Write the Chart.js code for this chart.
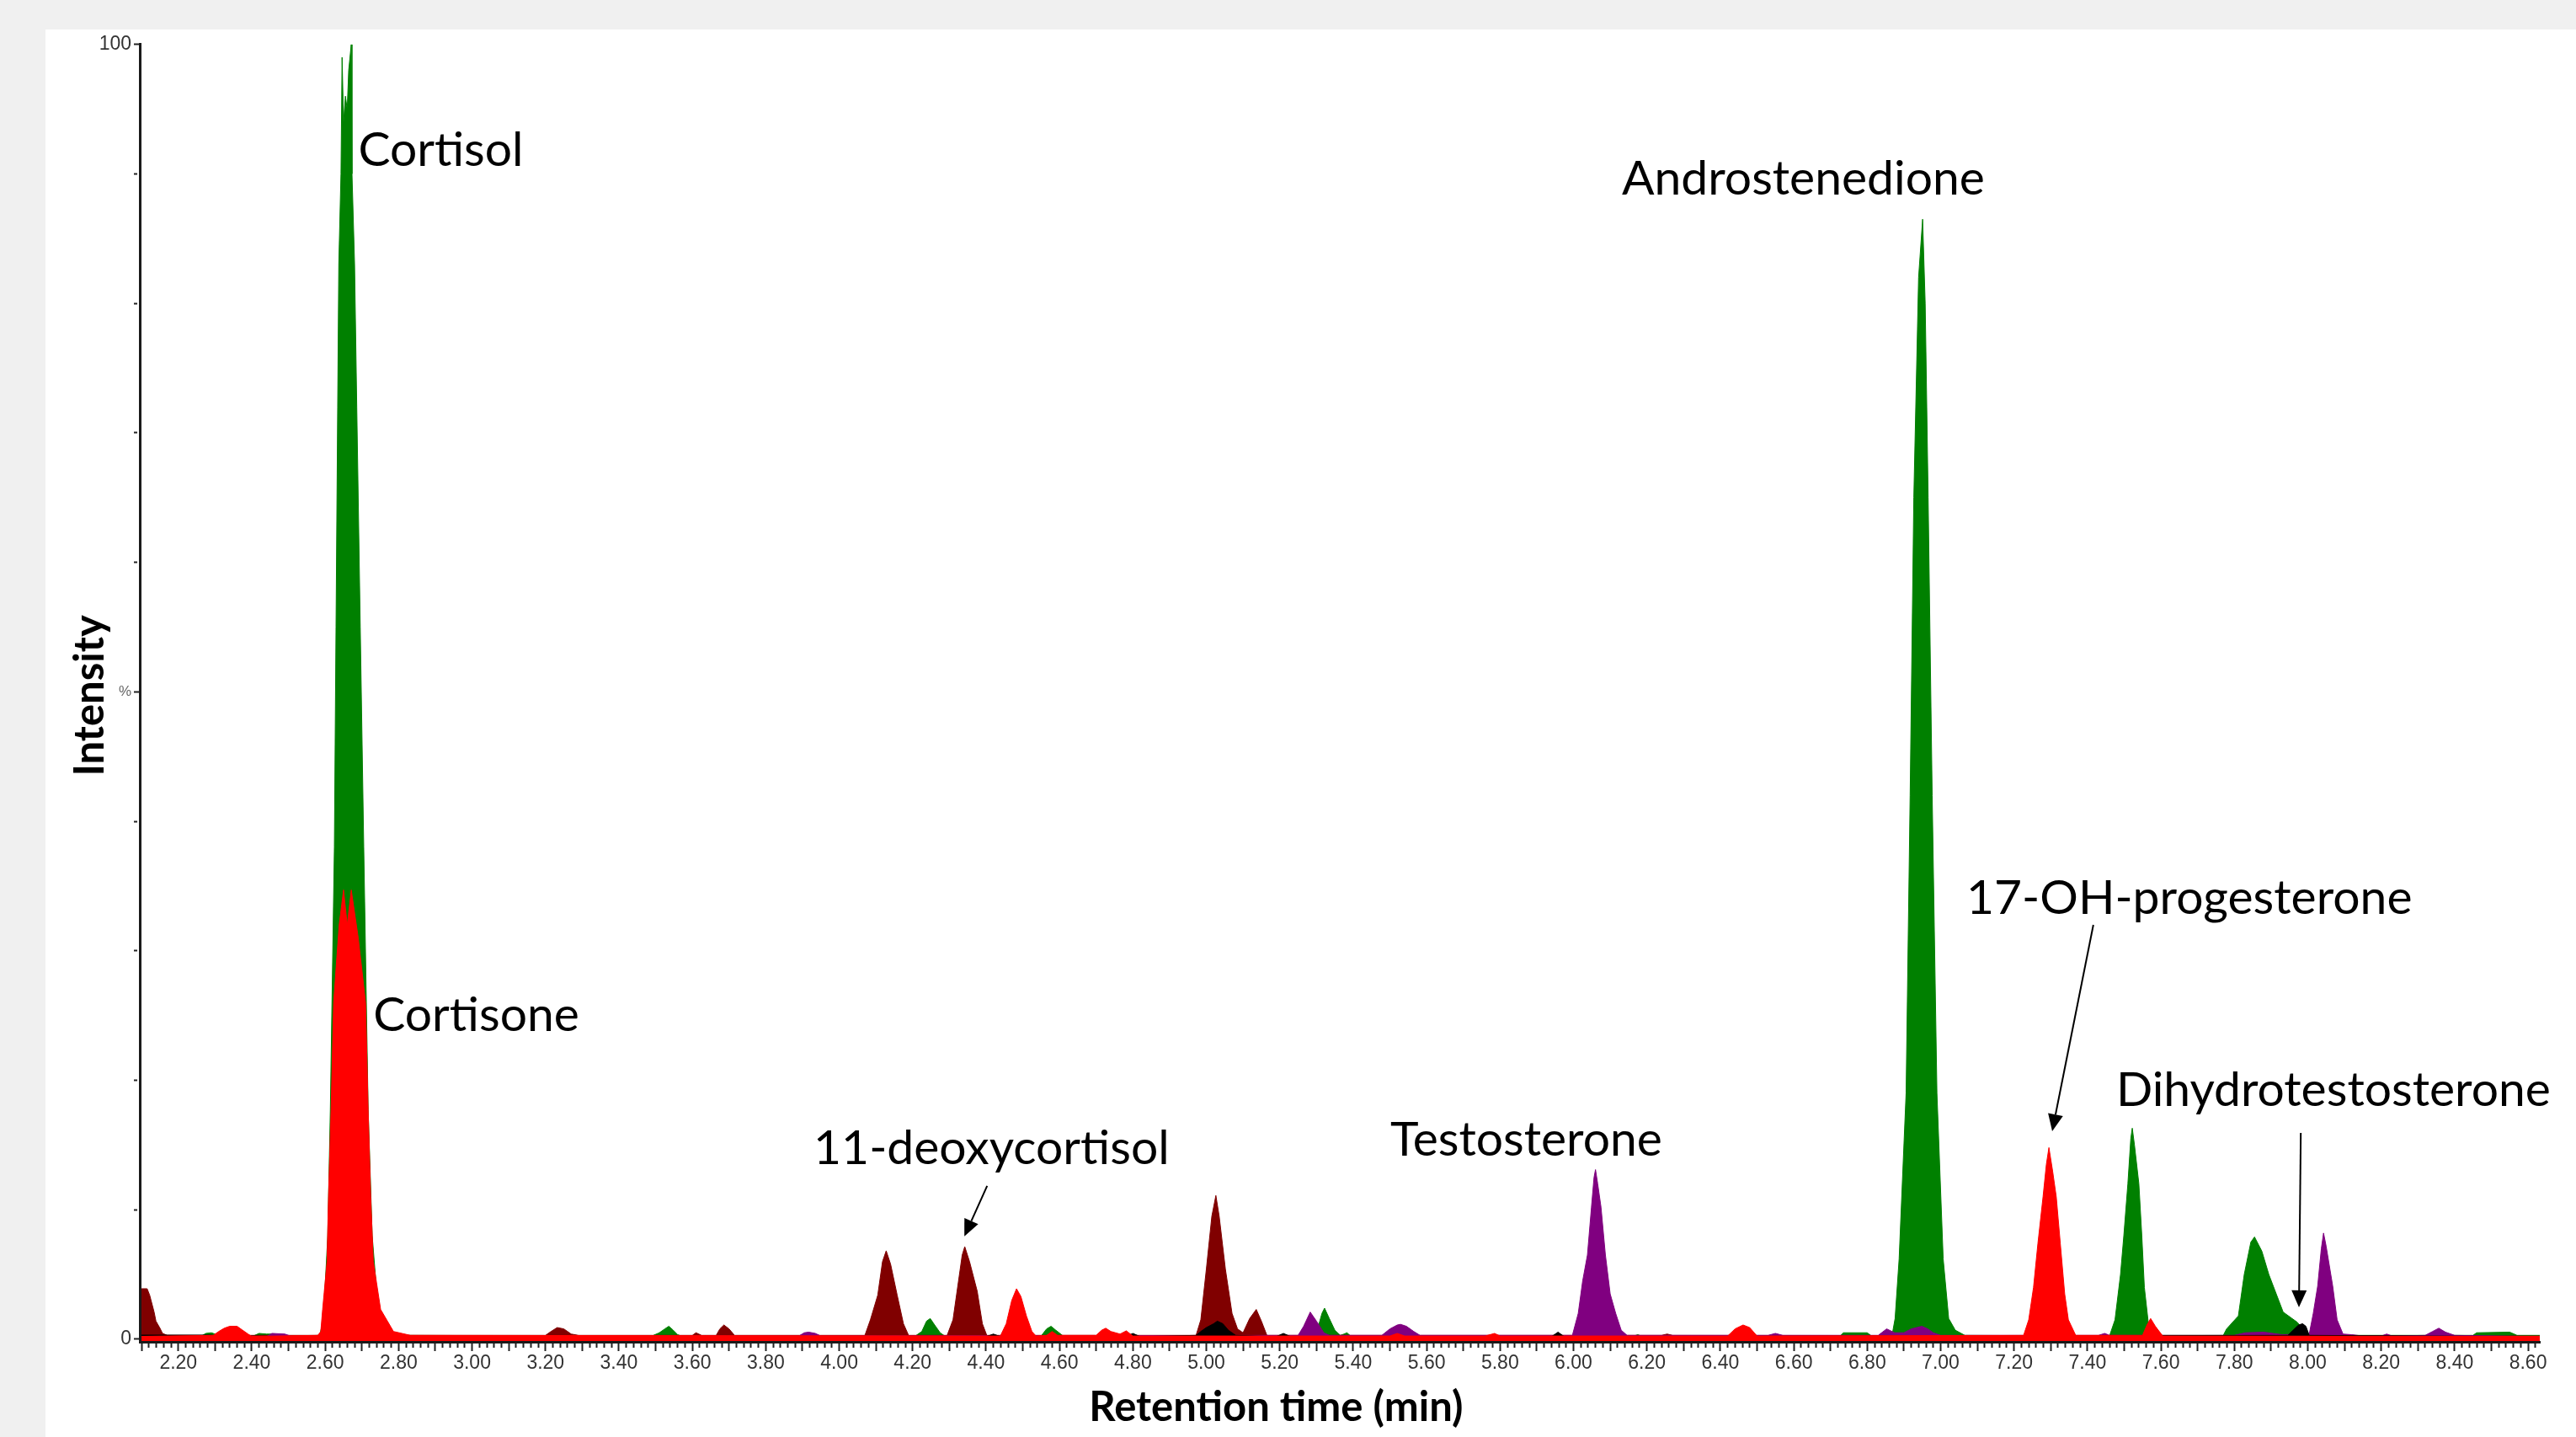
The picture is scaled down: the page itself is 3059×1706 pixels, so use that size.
<!DOCTYPE html>
<html>
<head>
<meta charset="utf-8">
<title>Steroid chromatogram</title>
<script src="https://cdn.jsdelivr.net/npm/chart.js@4"></script>
<style>
  html, body { margin: 0; padding: 0; background: #f0f0f0; overflow: hidden; }
  canvas { display: block; }
</style>
</head>
<body>
<canvas id="chromChart" width="3059" height="1706"></canvas>
<script>
// retention time (min) / relative intensity (%) per trace

const greenT = [2.095, 2.26, 2.275, 2.29, 2.305, 2.32, 2.40, 2.42, 2.44, 2.46, 2.475,
    2.585, 2.595, 2.607, 2.614, 2.625, 2.634, 2.637, 2.643, 2.646, 2.650, 2.655, 2.660, 2.664, 2.671, 2.673, 2.680, 2.686, 2.705, 2.717, 2.728, 2.745, 2.78,
    3.49, 3.51, 3.525, 3.536, 3.548, 3.56, 3.575,
    4.205, 4.225, 4.238, 4.248, 4.26, 4.275, 4.29,
    4.55, 4.565, 4.577, 4.59, 4.61,
    5.295, 5.305, 5.315, 5.322, 5.335, 5.35, 5.365, 5.375, 5.383, 5.395,
    6.16, 6.175, 6.19,
    6.725, 6.735, 6.80, 6.812,
    6.86, 6.869, 6.876, 6.887, 6.906, 6.917, 6.927, 6.940, 6.951, 6.958, 6.966, 6.977, 6.990, 7.007, 7.022, 7.040, 7.066,
    7.46, 7.475, 7.49, 7.499, 7.51, 7.518, 7.522, 7.528, 7.54, 7.548, 7.555, 7.566, 7.58,
    7.77, 7.779, 7.811, 7.827, 7.845, 7.855, 7.875, 7.894, 7.933, 7.972, 7.99, 8.00,
    8.45, 8.46, 8.55, 8.57, 8.632];
const greenY = [0.2, 0.2, 0.45, 0.5, 0.35, 0.2, 0.2, 0.45, 0.4, 0.4, 0.2,
    0.3, 1.5, 8, 17.7, 38, 72, 83, 90, 99, 94, 96, 95, 98, 100, 90, 83, 72, 38, 17.7, 8, 2, 0.3,
    0.25, 0.5, 0.8, 1.0, 0.7, 0.35, 0.2,
    0.2, 0.6, 1.4, 1.6, 1.1, 0.5, 0.2,
    0.25, 0.8, 1.0, 0.7, 0.25,
    0.2, 1.0, 2.0, 2.4, 1.6, 0.7, 0.3, 0.4, 0.5, 0.2,
    0.2, 0.35, 0.2,
    0.2, 0.5, 0.5, 0.25,
    0.3, 0.5, 1.6, 6.2, 19, 42, 65, 82, 86.5, 80, 65, 42, 19, 6.2, 1.6, 0.7, 0.3,
    0.25, 1.5, 5, 8, 12, 15.5, 16.3, 15, 12, 8, 4, 1.2, 0.3,
    0.3, 0.8, 1.8, 5, 7.5, 7.9, 6.8, 5, 2.1, 1.3, 0.6, 0.3,
    0.3, 0.5, 0.55, 0.3, 0.3];

const darkRedT = [2.095, 2.100, 2.115, 2.122, 2.134, 2.139, 2.150, 2.157, 2.17,
    3.20, 3.215, 3.232, 3.25, 3.27, 3.29,
    3.60, 3.61, 3.625,
    3.665, 3.675, 3.686, 3.70, 3.715,
    4.07, 4.085, 4.105, 4.118, 4.128, 4.14, 4.158, 4.175, 4.189,
    4.294, 4.31, 4.321, 4.335, 4.342, 4.355, 4.376, 4.39, 4.402,
    4.972, 4.985, 5.00, 5.015, 5.026, 5.035, 5.052, 5.07, 5.085, 5.10, 5.118, 5.136, 5.15, 5.165,
    6.24, 6.255, 6.27,
    8.632];
const darkRedY = [3.9, 3.9, 3.9, 3.4, 2.1, 1.4, 0.85, 0.45, 0.3,
    0.3, 0.6, 0.9, 0.8, 0.4, 0.3,
    0.3, 0.5, 0.3,
    0.3, 0.8, 1.1, 0.8, 0.3,
    0.3, 1.5, 3.4, 6, 6.83, 5.8, 3.4, 1.2, 0.3,
    0.3, 1.5, 3.7, 6.5, 7.15, 6, 3.7, 1.2, 0.3,
    0.3, 1.5, 5.4, 9.5, 11.1, 9.5, 5.4, 2.0, 0.8, 0.5, 1.6, 2.3, 1.4, 0.3,
    0.3, 0.4, 0.3,
    0.25];

const redT = [2.095, 2.295, 2.31, 2.325, 2.34, 2.36, 2.375, 2.39, 2.40,
    2.580, 2.588, 2.593, 2.605, 2.609, 2.616, 2.623, 2.638, 2.650, 2.660, 2.671, 2.690, 2.710, 2.717, 2.724, 2.731, 2.751, 2.786, 2.832,
    4.439, 4.455, 4.47, 4.483, 4.495, 4.51, 4.525, 4.536,
    4.565, 4.58, 4.595,
    4.70, 4.715, 4.726, 4.74, 4.765, 4.782, 4.80,
    5.50, 5.52, 5.54,
    5.76, 5.785, 5.80,
    6.42, 6.44, 6.462, 6.48, 6.50,
    7.226, 7.24, 7.253, 7.265, 7.279, 7.288, 7.295, 7.305, 7.315, 7.326, 7.338, 7.348, 7.368,
    7.55, 7.562, 7.572, 7.585, 7.605,
    8.632];
const redY = [0.22, 0.3, 0.6, 0.85, 1.0, 1.0, 0.7, 0.4, 0.22,
    0.3, 0.6, 2.3, 6, 11, 17.7, 26, 32, 34.7, 32, 34.7, 31, 26, 17.7, 11, 6, 2.3, 0.6, 0.3,
    0.25, 1.2, 3.0, 3.9, 3.3, 1.8, 0.6, 0.25,
    0.3, 0.6, 0.3,
    0.3, 0.7, 0.85, 0.6, 0.4, 0.65, 0.25,
    0.25, 0.45, 0.25,
    0.25, 0.45, 0.25,
    0.25, 0.8, 1.1, 0.9, 0.25,
    0.3, 1.5, 4, 7.4, 11, 13.5, 14.8, 13, 11, 7.4, 3.5, 1.5, 0.3,
    0.3, 1.1, 1.6, 1.0, 0.25,
    0.22];

const purpleT = [2.095, 2.44, 2.455, 2.49, 2.51,
    3.89, 3.905, 3.917, 3.935, 3.95,
    5.25, 5.265, 5.283, 5.30, 5.32, 5.335,
    5.478, 5.50, 5.52, 5.529, 5.545, 5.565, 5.582,
    5.997, 6.013, 6.025, 6.038, 6.049, 6.056, 6.060, 6.066, 6.075, 6.087, 6.10, 6.115, 6.13, 6.146,
    6.53, 6.55, 6.57,
    6.83, 6.853, 6.875, 6.90, 6.92, 6.949, 6.965, 6.98, 7.00,
    7.43, 7.447, 7.46,
    7.80, 7.83, 7.88, 7.93,
    8.004, 8.015, 8.027, 8.037, 8.043, 8.05, 8.068, 8.08, 8.096, 8.12, 8.15,
    8.20, 8.215, 8.23,
    8.32, 8.34, 8.357, 8.375, 8.40,
    8.632];
const purpleY = [0.2, 0.2, 0.45, 0.4, 0.2,
    0.25, 0.5, 0.55, 0.45, 0.25,
    0.3, 1.0, 2.1, 1.4, 0.5, 0.3,
    0.3, 0.8, 1.1, 1.15, 1.0, 0.6, 0.3,
    0.3, 2.0, 4.5, 6.5, 10.2, 12.5, 13.1, 12, 10.2, 6.5, 3.5, 2.0, 0.7, 0.3,
    0.3, 0.45, 0.3,
    0.3, 0.8, 0.5, 0.5, 0.8, 1.0, 0.8, 0.5, 0.3,
    0.3, 0.45, 0.3,
    0.3, 0.5, 0.55, 0.35,
    0.4, 2, 4.1, 7, 8.2, 7.2, 4.1, 1.5, 0.4, 0.35, 0.25,
    0.25, 0.4, 0.25,
    0.3, 0.6, 0.85, 0.55, 0.3,
    0.2];

const blackT = [2.095, 2.29, 2.31, 4.40, 4.42, 4.44, 4.78, 4.80, 4.82,
    4.972, 4.985, 5.00, 5.02, 5.03, 5.045, 5.06, 5.08,
    5.19, 5.21, 5.23,
    5.94, 5.958, 5.975,
    7.946, 7.96, 7.975, 7.986, 7.995, 8.004,
    8.632];
const blackY = [0.32, 0.32, 0.2, 0.2, 0.4, 0.2, 0.2, 0.45, 0.2,
    0.3, 0.6, 0.9, 1.2, 1.4, 1.2, 0.7, 0.3,
    0.2, 0.45, 0.2,
    0.2, 0.55, 0.2,
    0.3, 0.7, 1.1, 1.2, 1.0, 0.3,
    0.2];

// compound names: left edge (min) and baseline (%)
const peakNames = ['Cortisol', 'Androstenedione', 'Cortisone', '11-deoxycortisol', 'Testosterone', '17-OH-progesterone', 'Dihydrotestosterone'];
const nameT = [2.690, 6.132, 2.731, 3.930, 5.501, 7.070, 7.478];
const nameY = [90.6, 88.4, 23.8, 13.53, 14.18, 32.85, 18.02];

// arrows: tail -> head, in (min, %)
const arrowFrom = [[4.403, 11.84], [7.416, 32.0], [7.981, 15.94]];
const arrowTo = [[4.341, 7.94], [7.304, 16.07], [7.976, 2.47]];

const yLabels = { 0: '0', 50: '%', 100: '100' };

const toPoints = (ts, ys) => ts.map((t, i) => ({ x: t, y: ys[i] }));

const trace = (label, color, ts, ys) => ({
    label: label,
    data: toPoints(ts, ys),
    borderColor: color,
    backgroundColor: color,
    borderWidth: 1,
    pointRadius: 0,
    tension: 0,
    fill: 'start',
});

const isMultiple = (v, step) => Math.abs(v / step - Math.round(v / step)) < 1e-6;

// page background + annotations
const annotate = {
    id: 'annotate',
    beforeDraw(chart) {
        const c = chart.ctx;
        c.save();
        c.fillStyle = '#f0f0f0';
        c.fillRect(0, 0, chart.width, chart.height);
        c.fillStyle = '#ffffff';
        c.fillRect(54, 35, chart.width - 54, chart.height - 35);
        c.restore();
    },
    afterDatasetsDraw(chart) {
        const c = chart.ctx;
        const x = chart.scales.x;
        const y = chart.scales.y;
        c.save();
        c.fillStyle = '#000';
        c.font = '57px Lato';
        c.textAlign = 'left';
        c.textBaseline = 'alphabetic';
        peakNames.forEach((name, i) => {
            c.fillText(name, x.getPixelForValue(nameT[i]), y.getPixelForValue(nameY[i]));
        });

        c.strokeStyle = '#000';
        c.lineWidth = 2;
        arrowFrom.forEach((a, i) => {
            const x1 = x.getPixelForValue(a[0]), y1 = y.getPixelForValue(a[1]);
            const x2 = x.getPixelForValue(arrowTo[i][0]), y2 = y.getPixelForValue(arrowTo[i][1]);
            const ang = Math.atan2(y2 - y1, x2 - x1);
            const headLen = 20, headW = 9;
            const bx = x2 - headLen * Math.cos(ang), by = y2 - headLen * Math.sin(ang);
            c.beginPath();
            c.moveTo(x1, y1);
            c.lineTo(bx, by);
            c.stroke();
            c.beginPath();
            c.moveTo(x2, y2);
            c.lineTo(bx + headW * Math.sin(ang), by - headW * Math.cos(ang));
            c.lineTo(bx - headW * Math.sin(ang), by + headW * Math.cos(ang));
            c.closePath();
            c.fill();
        });

        // axis titles
        c.font = 'bold 49px Lato';
        c.textAlign = 'center';
        c.textBaseline = 'middle';
        c.fillText('Retention time (min)', x.getPixelForValue(5.19), x.bottom - 35);
        c.translate(chart.chartArea.left - 59, y.getPixelForValue(49.7));
        c.rotate(-Math.PI / 2);
        c.fillText('Intensity', 0, 0);
        c.restore();
    }
};

new Chart(document.getElementById('chromChart'), {
    type: 'line',
    data: {
        // first dataset is painted last (on top)
        datasets: [
            trace('m/z red', '#ff0000', redT, redY),
            trace('m/z black', '#000000', blackT, blackY),
            trace('m/z purple', '#800080', purpleT, purpleY),
            trace('m/z dark red', '#800000', darkRedT, darkRedY),
            trace('m/z green', '#008000', greenT, greenY),
        ]
    },
    options: {
        responsive: false,
        animation: false,
        devicePixelRatio: 1,
        layout: { padding: { left: 100, right: 43, top: 52.7, bottom: 0 } },
        plugins: {
            legend: { display: false },
            tooltip: { enabled: false }
        },
        events: [],
        scales: {
            x: {
                type: 'linear',
                min: 2.095,
                max: 8.632,
                afterFit: s => { s.height = 113; },
                border: { display: true, color: '#1a1a1a', width: 3, z: 1 },
                grid: {
                    drawOnChartArea: false,
                    drawTicks: true,
                    tickLength: 11,
                    tickWidth: 2,
                    tickColor: '#222',
                    tickBorderDash: ctx => (ctx.tick && isMultiple(ctx.tick.value, 0.1)) ? [] : [5, 40],
                },
                ticks: {
                    stepSize: 0.02,
                    includeBounds: false,
                    autoSkip: false,
                    maxRotation: 0,
                    minRotation: 0,
                    padding: 1,
                    color: '#333',
                    font: { family: 'Liberation Sans', size: 23 },
                    callback: v => isMultiple(v, 0.2) ? v.toFixed(2) : ''
                }
            },
            y: {
                type: 'linear',
                min: -0.2,
                max: 100,
                afterFit: s => { s.width = 66; },
                border: { display: true, color: '#1a1a1a', width: 3, z: 1 },
                grid: {
                    drawOnChartArea: false,
                    drawTicks: true,
                    tickLength: 7,
                    tickWidth: 2,
                    tickColor: '#222',
                    tickBorderDash: ctx => (ctx.tick && isMultiple(ctx.tick.value, 50)) ? [] : [4, 40],
                },
                ticks: {
                    stepSize: 10,
                    includeBounds: false,
                    autoSkip: false,
                    padding: 3,
                    color: ctx => ctx.tick && ctx.tick.value === 50 ? '#666' : '#333',
                    font: ctx => ({ family: 'Liberation Sans', size: ctx.tick && ctx.tick.value === 50 ? 17 : 23 }),
                    callback: v => yLabels[Math.round(v)] !== undefined && isMultiple(v, 50) ? yLabels[Math.round(v)] : ''
                }
            }
        }
    },
    plugins: [annotate]
});
</script>
</body>
</html>
